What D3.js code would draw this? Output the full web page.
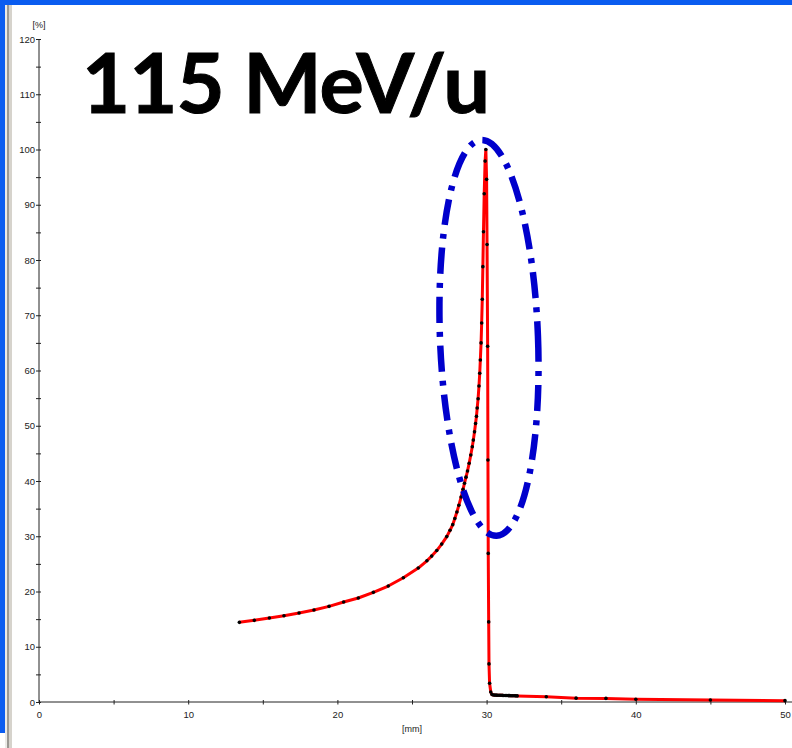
<!DOCTYPE html>
<html>
<head>
<meta charset="utf-8">
<script src="https://cdn.jsdelivr.net/npm/d3@7"></script>
<style>
  body { margin: 0; background: #fff; }
  svg { display: block; }
  .tick text { font-family: "Liberation Sans", Arial, sans-serif; font-size: 9.5px; fill: #222; }
</style>
</head>
<body>
<div id="chart"></div>
<script>
var svgWidth = 792;
var svgHeight = 748;

var margin = { top: 39, right: 7, bottom: 46, left: 39 };
var width = svgWidth - margin.left - margin.right;
var height = svgHeight - margin.top - margin.bottom;

// depth [mm] and relative dose [%]
var depth = [13.43, 14.43, 15.44, 16.42, 17.43, 18.43, 19.44, 20.42, 21.40, 22.41,
  23.41, 24.42, 25.42, 26.00, 26.32, 26.66, 26.99, 27.33, 27.55, 27.73,
  27.87, 28.01, 28.14, 28.29, 28.42, 28.52, 28.62, 28.72, 28.83, 28.94,
  29.04, 29.11, 29.19, 29.26, 29.32, 29.37, 29.43, 29.49, 29.54, 29.58,
  29.63, 29.67, 29.71, 29.75, 29.79, 29.84, 29.90, 29.95, 30.00, 30.03,
  30.07, 30.09, 30.11, 30.14, 30.16, 30.20, 30.28, 30.36, 30.45, 30.55,
  30.65, 30.75, 30.85, 30.95, 31.05, 31.15, 31.25, 31.35, 31.45, 31.55,
  31.65, 31.75, 31.85, 31.95, 32.05, 34.0, 36.0, 38.0, 40.0, 45.0, 50.0];
var dose = [14.42, 14.78, 15.20, 15.61, 16.10, 16.64, 17.31, 18.09, 18.82, 19.85,
  20.99, 22.49, 24.24, 25.56, 26.41, 27.41, 28.58, 29.94, 31.08, 32.1,
  33.2, 34.4, 35.6, 37.1, 38.5, 39.6, 40.7, 41.8, 43.2, 44.7,
  46.2, 47.4, 48.9, 50.4, 51.7, 53.2, 54.9, 57.2, 59.5, 61.9,
  65.0, 68.6, 72.9, 78.8, 85.1, 92.0, 97.9, 100.0, 94.6, 82.8,
  64.4, 43.8, 26.9, 14.5, 6.9, 3.4, 1.8, 1.35, 1.27, 1.25,
  1.24, 1.23, 1.22, 1.21, 1.20, 1.19, 1.18, 1.17, 1.16, 1.15,
  1.14, 1.13, 1.12, 1.11, 1.10, 0.96, 0.70, 0.65, 0.49, 0.36, 0.24];

var xTicks = [0, 5, 10, 15, 20, 25, 30, 35, 40, 45, 50];
var yTicks = [0, 5, 10, 15, 20, 25, 30, 35, 40, 45, 50, 55, 60, 65, 70, 75, 80, 85, 90, 95, 100, 105, 110, 115, 120];

var title = "115 MeV/u";

var points = depth.map((d, i) => ({ depth: d, dose: dose[i] }));

var svg = d3.select("#chart")
  .append("svg")
  .attr("width", svgWidth)
  .attr("height", svgHeight);

svg.append("rect").attr("width", svgWidth).attr("height", svgHeight).attr("fill", "#fff");

// window frame bits
svg.append("rect").attr("x", 0).attr("y", 0).attr("width", svgWidth).attr("height", 5).attr("fill", "#0a5cf0");
svg.append("rect").attr("x", 0).attr("y", 0).attr("width", 5).attr("height", 733).attr("fill", "#0a5cf0");
svg.append("rect").attr("x", 5).attr("y", 5).attr("width", 2).attr("height", svgHeight - 5).attr("fill", "#ebeae6");
svg.append("rect").attr("x", 7).attr("y", 5).attr("width", 2).attr("height", svgHeight - 5).attr("fill", "#9a9893");
svg.append("rect").attr("x", 9).attr("y", 5).attr("width", 3).attr("height", svgHeight - 5).attr("fill", "#d6d3cc");

var chart = svg.append("g")
  .attr("transform", `translate(${margin.left}, ${margin.top})`);

var xLinear = d3.scaleLinear().domain([0, 50]).range([0, width]);
var yLinear = d3.scaleLinear().domain([0, 120]).range([height, 0]);

var bottomAxis = d3.axisBottom(xLinear)
  .tickValues(xTicks)
  .tickSize(0)
  .tickPadding(9)
  .tickFormat(d => d % 10 === 0 ? d : "");
var leftAxis = d3.axisLeft(yLinear)
  .tickValues(yTicks)
  .tickSize(0)
  .tickPadding(4)
  .tickFormat(d => d % 10 === 0 ? d : "");

var xAxisG = chart.append("g")
  .attr("transform", `translate(0, ${height})`)
  .call(bottomAxis);
xAxisG.select(".domain").remove();
xAxisG.selectAll(".tick line").attr("y1", -2).attr("y2", 2.5).attr("stroke", "#222");
xAxisG.append("line")
  .attr("x1", 0).attr("x2", svgWidth - margin.left)
  .attr("stroke", "#222").attr("stroke-width", 1);

var yAxisG = chart.append("g").call(leftAxis);
yAxisG.select(".domain").remove();
yAxisG.selectAll(".tick line").attr("x1", -3).attr("x2", 2).attr("stroke", "#222");
yAxisG.append("line")
  .attr("y1", 0).attr("y2", height)
  .attr("stroke", "#222").attr("stroke-width", 1);

// unit labels
chart.append("text")
  .attr("x", 0).attr("y", -11)
  .attr("text-anchor", "middle")
  .attr("font-family", "Liberation Sans, Arial, sans-serif")
  .attr("font-size", "9px").attr("fill", "#222")
  .text("[%]");
chart.append("text")
  .attr("x", xLinear(25)).attr("y", height + 30)
  .attr("text-anchor", "middle")
  .attr("font-family", "Liberation Sans, Arial, sans-serif")
  .attr("font-size", "9px").attr("fill", "#222")
  .text("[mm]");

// red curve with the measured points on top
var line = d3.line()
  .x(d => xLinear(d.depth))
  .y(d => yLinear(d.dose));

chart.append("path")
  .datum(points)
  .attr("d", line)
  .attr("fill", "none")
  .attr("stroke", "#ff0000")
  .attr("stroke-width", 3)
  .attr("stroke-linejoin", "round");

chart.selectAll("circle.pt")
  .data(points)
  .enter()
  .append("circle")
  .attr("class", "pt")
  .attr("cx", d => xLinear(d.depth))
  .attr("cy", d => yLinear(d.dose))
  .attr("r", 1.8)
  .attr("fill", "#000");

// dash-dot ellipse round the Bragg peak
chart.append("ellipse")
  .attr("transform", `translate(${xLinear(30.16)}, ${yLinear(65.9)}) rotate(-2.2)`)
  .attr("rx", 49)
  .attr("ry", 198)
  .attr("fill", "none")
  .attr("stroke", "#0000cc")
  .attr("stroke-width", 6.5)
  .attr("stroke-dasharray", "26 9 5 9");

svg.append("text")
  .attr("x", 82)
  .attr("y", 113)
  .attr("font-family", "Lato, sans-serif")
  .attr("font-weight", 700)
  .attr("font-size", "83px")
  .attr("fill", "#000")
  .attr("stroke", "#000")
  .attr("stroke-width", 1)
  .attr("textLength", 408)
  .attr("lengthAdjust", "spacing")
  .text(title);
</script>
</body>
</html>
